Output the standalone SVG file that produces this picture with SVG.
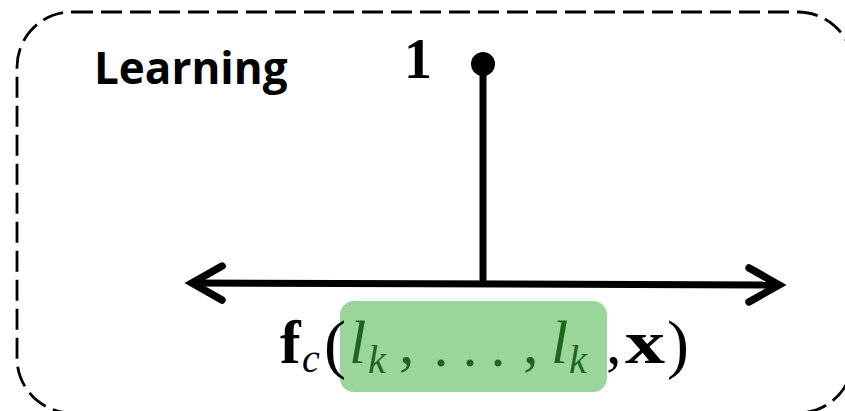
<svg xmlns="http://www.w3.org/2000/svg" width="845" height="411" viewBox="0 0 845 411">
<style>
.frame{fill:none;stroke:#000;stroke-width:2.8;stroke-dasharray:21 8}
.conn{stroke:#000;stroke-width:7;fill:none}
.label{font-family:"Open Sans","Liberation Sans",sans-serif;font-weight:bold;fill:#000}
.m{font-family:"Liberation Serif","DejaVu Serif",serif;fill:#000}
.g{fill:#1d661d}
.it{font-style:italic}
.bd{font-weight:bold}
</style>
<defs>
<marker id="chev" markerUnits="userSpaceOnUse" viewBox="-40 -25 50 50" refX="0" refY="0" markerWidth="50" markerHeight="50" orient="auto-start-reverse" overflow="visible">
<path d="M -30 -17 L 0 0 L -30 17" fill="none" stroke="#000" stroke-width="7.5" stroke-linecap="round" stroke-linejoin="miter"/>
</marker>
</defs>
<rect x="0" y="0" width="845" height="411" fill="#fff"/>
<g id="frame">
<rect class="frame" x="17" y="12" width="836" height="401" rx="55" ry="55"/>
<text class="label" x="94" y="84" font-size="44">Learning</text>
</g>
<g id="connectors">
<line class="conn" x1="483" y1="64" x2="483" y2="284"/>
<line class="conn" x1="192" y1="283" x2="779" y2="285" marker-start="url(#chev)" marker-end="url(#chev)"/>
</g>
<g id="node-one">
<circle cx="483" cy="64" r="12" fill="#000"/>
<text class="m bd" x="404" y="78" font-size="56">1</text>
</g>
<g id="node-formula">
<rect x="340" y="301" width="267" height="91" rx="14" ry="14" fill="#9ad69a"/>
<text class="m bd" x="280" y="363" font-size="62">f</text>
<text class="m it" x="302" y="372" font-size="40">c</text>
<text class="m" x="324" y="366" font-size="66">(</text>
<text class="m it g" x="349" y="363" font-size="62">l</text>
<text class="m it g" x="368" y="373" font-size="40">k</text>
<text class="m g" x="399" y="363" font-size="62">,</text>
<text class="m g" x="441" y="366" font-size="60" text-anchor="middle">.</text>
<text class="m g" x="470" y="366" font-size="60" text-anchor="middle">.</text>
<text class="m g" x="498" y="366" font-size="60" text-anchor="middle">.</text>
<text class="m g" x="523" y="363" font-size="62">,</text>
<text class="m it g" x="551" y="363" font-size="62">l</text>
<text class="m it g" x="569" y="373" font-size="40">k</text>
<text class="m" x="606" y="363" font-size="62">,</text>
<text class="m bd" x="625" y="363" font-size="62" textLength="40" lengthAdjust="spacingAndGlyphs">x</text>
<text class="m" x="667" y="366" font-size="66">)</text>
</g>
</svg>
